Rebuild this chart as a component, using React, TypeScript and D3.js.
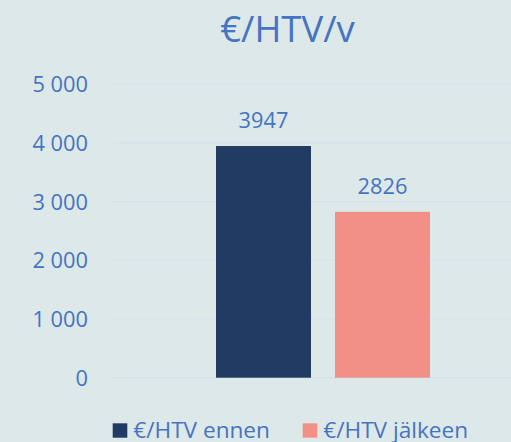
import React from "react";
import * as d3 from "d3";

const category = ["€/HTV/v"];
const seriesNames = ["€/HTV ennen", "€/HTV jälkeen"];
const seriesValues = [3947, 2826];
const seriesColors = ["#213b63", "#f29087"];
const yTicks = [0, 1000, 2000, 3000, 4000, 5000];
const titleText = "€/HTV/v";

const W = 511;
const H = 442;
const FONT = "'Open Sans', 'Noto Sans', sans-serif";
const TEXT = "#4673c2";

export default function App() {
  const loc = d3.formatLocale({ decimal: ",", thousands: " ", grouping: [3], currency: ["", "€"] });
  const fmt = loc.format(",d");

  const y = d3.scaleLinear().domain([0, 5000]).range([377.7, 84.2]);
  const x0 = d3.scaleBand().domain(category).range([113, 533]).paddingInner(0).paddingOuter(0.4813);
  const x1 = d3.scaleBand().domain(seriesNames).range([0, x0.bandwidth()]).paddingInner(0.2017).paddingOuter(0);

  const legendX = [112.7, 302.7];

  return (
    <svg width={W} height={H} style={{ position: "fixed", left: 0, top: 0, background: "#dce9e8" }} fontFamily={FONT}>
      <rect x={0} y={0} width={W} height={H} fill="#dce9e8" />
      <text x={287.5} y={41.5} textAnchor="middle" fontSize={36.5} fill={TEXT}>{titleText}</text>
      {yTicks.map((t) => (
        <g key={t}>
          <line x1={113} x2={W} y1={y(t)} y2={y(t)} stroke="#d3e0ef" strokeWidth={1.2} />
          <text x={88} y={y(t) + 8} textAnchor="end" fontSize={21.8} fill={TEXT}>{fmt(t)}</text>
        </g>
      ))}
      {seriesNames.map((s, i) => {
        const bx = (x0(category[0]) as number) + (x1(s) as number);
        const v = seriesValues[i];
        return (
          <g key={s}>
            <rect x={bx} y={y(v)} width={x1.bandwidth()} height={y(0) - y(v)} fill={seriesColors[i]} />
            <text x={bx + x1.bandwidth() / 2} y={y(v) - 18} textAnchor="middle" fontSize={21.8} fill={TEXT}>{v}</text>
          </g>
        );
      })}
      {seriesNames.map((s, i) => (
        <g key={"lg" + s}>
          <rect x={legendX[i]} y={423.3} width={14.6} height={14.4} fill={seriesColors[i]} />
          <text x={legendX[i] + 20.6} y={437.7} fontSize={22.6} fill={TEXT}>{s}</text>
        </g>
      ))}
    </svg>
  );
}
